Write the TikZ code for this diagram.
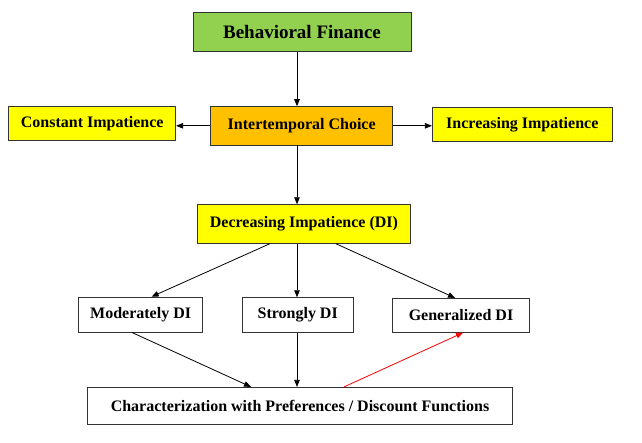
\documentclass[tikz,border=0pt]{standalone}
\usepackage{fontspec}
\setmainfont{Liberation Serif}
\usetikzlibrary{arrows.meta}

\definecolor{bfgreen}{HTML}{92D050}
\definecolor{icorange}{HTML}{FFC000}
\definecolor{diyellow}{HTML}{FFFF00}

\begin{document}
\begin{tikzpicture}[x=1pt,y=-1pt,
  box/.style={draw=black!80,line width=0.8pt,inner sep=0pt,
    font=\fontsize{16}{19}\bfseries\selectfont},
  arr/.style={line width=0.8pt,-{Triangle[length=7pt,width=5.5pt]}}]

\useasboundingbox (0,0) rectangle (642,443);

% top row
\node[box,fill=bfgreen,minimum width=218pt,minimum height=38.6pt,
  font=\fontsize{19}{22}\bfseries\selectfont] (bf) at (302,32) {Behavioral Finance};
\node[box,fill=icorange,minimum width=182pt,minimum height=38.3pt] (ic) at (301.7,125.8) {Intertemporal Choice};
\node[box,fill=diyellow,minimum width=167pt,minimum height=33.6pt] (ci) at (92.2,123.5) {Constant Impatience};
\node[box,fill=diyellow,minimum width=180pt,minimum height=34.4pt] (ii) at (522.3,124.5) {Increasing Impatience};
\node[box,fill=diyellow,minimum width=213.7pt,minimum height=38.6pt] (di) at (303.9,224) {Decreasing Impatience (DI)};

% kinds of DI
\node[box,fill=white,minimum width=123.8pt,minimum height=35pt] (md) at (140.6,314.6) {Moderately DI};
\node[box,fill=white,minimum width=111pt,minimum height=34.6pt] (sd) at (297.7,315) {Strongly DI};
\node[box,fill=white,minimum width=137.7pt,minimum height=34pt] (gd) at (461,315.3) {Generalized DI};
\node[box,fill=white,minimum width=425.4pt,minimum height=37pt] (ch) at (300,405.8) {Characterization with Preferences / Discount Functions};

\draw[arr] ([xshift=-5pt]bf.south) -- ([xshift=-4.7pt]ic.north);
\draw[arr] (ic.west) -- (ic.west -| ci.east);
\draw[arr] (ic.east) -- (ic.east -| ii.west);
\draw[arr] ([xshift=-4.7pt]ic.south) -- ([xshift=-6.9pt]di.north);

\draw[arr] ([xshift=-34pt]di.south) -- ([xshift=11pt]md.north);
\draw[arr] ([xshift=-6.9pt]di.south) -- ([xshift=-0.7pt]sd.north);
\draw[arr] ([xshift=32pt]di.south) -- ([xshift=-6pt]gd.north);

\draw[arr] ([xshift=-8.6pt]md.south) -- ([xshift=-49pt]ch.north);
\draw[arr] ([xshift=-0.7pt]sd.south) -- ([xshift=-3pt]ch.north);
\draw[arr,red] ([xshift=44pt]ch.north) -- ([xshift=2pt]gd.south);
\end{tikzpicture}
\end{document}
